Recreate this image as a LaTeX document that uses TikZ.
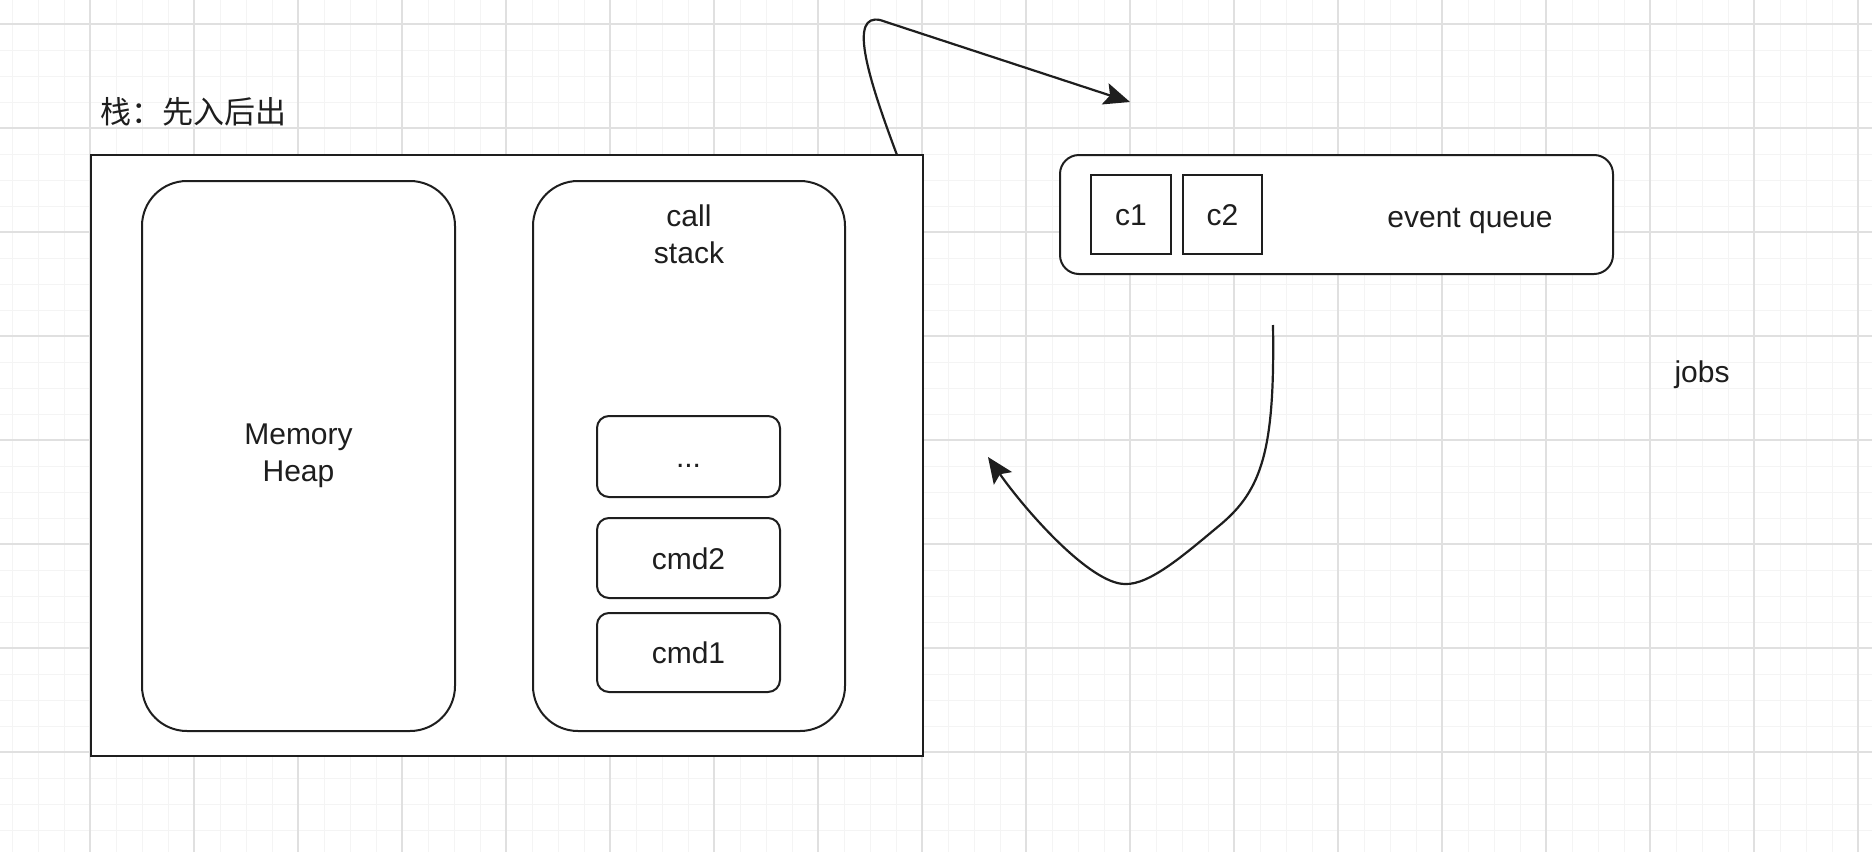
\documentclass[tikz,border=0pt]{standalone}
\usepackage{fontspec}
\setmainfont{Liberation Sans}
\newfontfamily\cjk{Noto Sans CJK SC}
\usetikzlibrary{arrows.meta}
\definecolor{gridminor}{HTML}{F4F4F4}
\definecolor{gridmajor}{HTML}{E0E0E0}
\definecolor{ink}{HTML}{1E1E1E}
\begin{document}
\begin{tikzpicture}[x=1pt,y=-1pt,
  every node/.style={font=\fontsize{30}{37}\selectfont, text=ink},
  minorline/.style={gridminor, line width=1pt},
  majorline/.style={gridmajor, line width=1.4pt},
  box/.style={draw=ink, fill=white, line width=2pt, inner sep=0pt, align=center},
  cell/.style={box, text height=22pt, text depth=0pt},
  plainlbl/.style={inner sep=0pt, align=center},
  arrowline/.style={draw=ink, line width=2.2pt,
    -{Stealth[length=26pt, width=22pt, inset=5pt]}}
]
\fill[white] (0,0) rectangle (1872,852);
\useasboundingbox (0,0) rectangle (1872,852);
% grid
\foreach \k in {-3,...,68} { \draw[minorline] ({90+26*\k},0) -- ({90+26*\k},852); }
\foreach \k in {-4,...,27} { \draw[minorline] (0,{128+26*\k}) -- (1872,{128+26*\k}); }
\foreach \k in {0,...,17} { \draw[majorline] ({90+104*\k},0) -- ({90+104*\k},852); }
\foreach \k in {-1,...,6} { \draw[majorline] (0,{128+104*\k}) -- (1872,{128+104*\k}); }

% title
\node[plainlbl, anchor=west, font=\cjk\fontsize{31}{37}\selectfont] (title) at (100,112) {栈：先入后出};

% stack container
\node[box, minimum width=832pt, minimum height=601pt] (stack) at (507,455.5) {};
\node[box, rounded corners=45pt, minimum width=313pt, minimum height=550pt] (heap) at (298.5,456) {Memory\\Heap};
\node[box, rounded corners=45pt, minimum width=312pt, minimum height=550pt] (callstack) at (689,456) {};
\node[plainlbl] (cslabel) at (689,234.5) {call\\stack};
\node[cell, rounded corners=12pt, minimum width=183pt, minimum height=81pt] (dots) at (688.5,456.5) {...};
\node[cell, rounded corners=12pt, minimum width=183pt, minimum height=80pt] (cmd2) at (688.5,558) {cmd2};
\node[cell, rounded corners=12pt, minimum width=183pt, minimum height=79pt] (cmd1) at (688.5,652.5) {cmd1};

% event queue
\node[box, rounded corners=19pt, minimum width=553pt, minimum height=119pt] (queue) at (1336.5,214.5) {};
\node[cell, minimum width=80pt, minimum height=79pt] (c1) at (1131,214.5) {c1};
\node[cell, minimum width=79pt, minimum height=79pt] (c2) at (1222.5,214.5) {c2};
\node[plainlbl, text height=22pt, text depth=0pt] (eq) at (1470,216) {event queue};

% jobs
\node[plainlbl, text height=22pt, text depth=0pt] (jobs) at (1702,371) {jobs};

% arrows
\coordinate (t1) at (897,155);
\coordinate (t2) at (1130,102);
\draw[arrowline] (t1) .. controls (865,70) and (850,14) .. (880,20) -- (t2);

\coordinate (b1) at (1273,325);
\coordinate (b2) at (988,457);
\draw[arrowline] (b1) .. controls (1275,450) and (1262,490) .. (1220,525)
  .. controls (1185,554) and (1150,585) .. (1125,584)
  .. controls (1090,584) and (1025,510) .. (b2);
\end{tikzpicture}
\end{document}
